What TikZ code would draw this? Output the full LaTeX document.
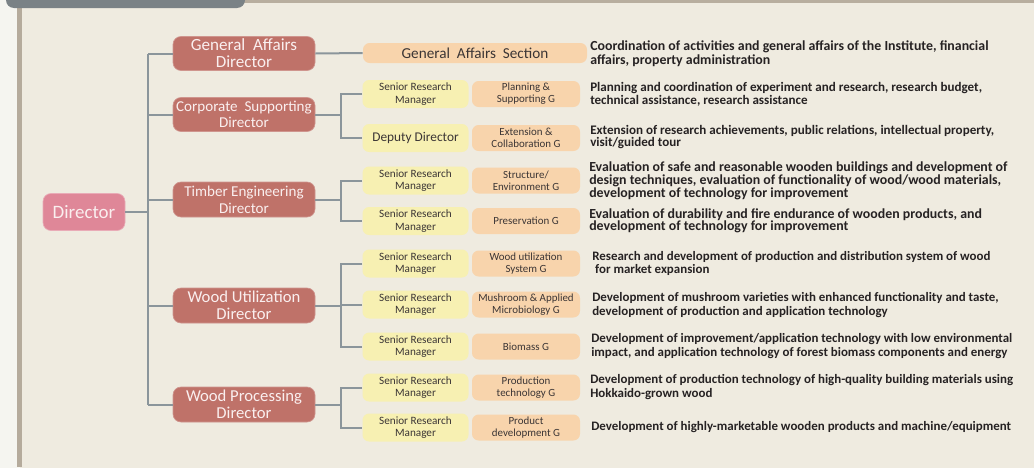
\documentclass[tikz,border=0pt]{standalone}
\usepackage{fontspec}
\setmainfont{Carlito}
\definecolor{panel}{HTML}{EFEBE0}
\definecolor{outside}{HTML}{F5F5F0}
\definecolor{stripe}{HTML}{B5AB9C}
\definecolor{tabc}{HTML}{7A8286}
\definecolor{topline}{HTML}{B8AE9F}
\definecolor{linec}{HTML}{8B959B}
\definecolor{pinkc}{HTML}{DF8798}
\definecolor{redc}{HTML}{BF7269}
\definecolor{yellowc}{HTML}{F7F0B2}
\definecolor{orangec}{HTML}{F8D4AC}
\definecolor{desctext}{HTML}{262223}
\definecolor{boxtext}{HTML}{3B3535}
\definecolor{dirtext}{HTML}{FAEFEF}
\begin{document}
\begin{tikzpicture}[x=0.75pt,y=-0.75pt,
  topbox/.style={rectangle,rounded corners=6pt,fill=pinkc,draw=pinkc!70!white,line width=0.5pt,
    minimum width=61.5pt,minimum height=27.75pt,text=dirtext,inner sep=0pt,
    font=\fontsize{14.2}{15}\selectfont},
  dirbox/.style={rectangle,rounded corners=6pt,fill=redc,draw=redc!75!white,line width=0.5pt,
    minimum width=106.5pt,minimum height=25.5pt,text=dirtext,inner sep=0pt,align=center},
  ybox/.style={rectangle,rounded corners=5pt,fill=yellowc,minimum width=79.5pt,minimum height=21pt,
    inner sep=0pt,align=center,text=boxtext,font=\fontsize{8.4}{9.2}\selectfont},
  obox/.style={rectangle,rounded corners=5pt,fill=orangec,minimum width=81pt,minimum height=19.5pt,
    inner sep=0pt,align=center,text=boxtext,font=\fontsize{8.2}{8.9}\selectfont},
  desc/.style={anchor=west,align=left,inner sep=0pt,text=desctext},
  conn/.style={draw=linec,line width=1.5pt}]
\useasboundingbox (0,0) rectangle (1034,468);
% background
\fill[outside] (0,0) rectangle (1034,468);
\fill[panel] (20,0) rectangle (1034,468);
\fill[topline] (230,0) rectangle (1034,3);
\fill[stripe] (17,0) rectangle (22,467);
\fill[tabc,rounded corners=6pt] (6,-12) rectangle (245,8);
% coordinates for connector columns
\coordinate (tx) at (148,0);
\coordinate (bx) at (341,0);
% Director
\node[topbox] (dir) at (84,212) {Director};
% directors
\node[dirbox,font=\fontsize{12.8}{12.8}\selectfont] (gad) at (244,53.5) {General\ \ Affairs\\Director};
\node[dirbox,font=\fontsize{11.3}{12.2}\selectfont] (csd) at (244,114.5) {Corporate\ \ Supporting\\Director};
\node[dirbox,minimum height=26.25pt,font=\fontsize{11.3}{12.5}\selectfont] (ted) at (244,199.5) {Timber Engineering\\Director};
\node[dirbox,minimum height=26.25pt,font=\fontsize{12.5}{12.5}\selectfont] (wud) at (244,305.5) {Wood Utilization\\Director};
\node[dirbox,minimum height=26.25pt,font=\fontsize{12.5}{12.5}\selectfont] (wpd) at (244,404.5) {Wood Processing\\Director};
% General affairs section
\node[rectangle,rounded corners=5pt,fill=orangec,minimum width=168pt,minimum height=15pt,inner sep=0pt,
  text=boxtext,font=\fontsize{11.4}{12}\selectfont] (gas) at (475,53) {General\ \ Affairs\ \ Section};
% rows
\node[ybox] (y1) at (415.5,94) {Senior Research\\Manager};
\node[obox] (o1) at (526,94) {Planning \&\\Supporting G};
\node[ybox,font=\fontsize{10}{11}\selectfont] (y2) at (415.5,138) {Deputy Director};
\node[obox] (o2) at (526,138) {Extension \&\\Collaboration G};
\node[ybox] (y3) at (415.5,180.5) {Senior Research\\Manager};
\node[obox] (o3) at (526,180.5) {Structure/\\Environment G};
\node[ybox] (y4) at (415.5,221) {Senior Research\\Manager};
\node[obox] (o4) at (526,221) {Preservation G};
\node[ybox] (y5) at (415.5,263.5) {Senior Research\\Manager};
\node[obox] (o5) at (526,263.5) {Wood utilization\\System G};
\node[ybox] (y6) at (415.5,304.5) {Senior Research\\Manager};
\node[obox] (o6) at (526,304.5) {Mushroom \& Applied\\Microbiology G};
\node[ybox] (y7) at (415.5,346.5) {Senior Research\\Manager};
\node[obox] (o7) at (526,346.5) {Biomass G};
\node[ybox] (y8) at (415.5,387.5) {Senior Research\\Manager};
\node[obox] (o8) at (526,387.5) {Production\\technology G};
\node[ybox] (y9) at (415.5,427.5) {Senior Research\\Manager};
\node[obox] (o9) at (526,427.5) {Product\\development G};
% descriptions
\node[desc,font=\fontsize{10.4}{8.4}\selectfont\bfseries] (d0) at (590,53.5) {Coordination of activities and general affairs of the Institute, financial\\affairs, property administration};
\node[desc,font=\fontsize{9.8}{8.4}\selectfont\bfseries] (d1) at (590,94) {Planning and coordination of experiment and research, research budget,\\technical assistance, research assistance};
\node[desc,font=\fontsize{9.8}{9}\selectfont\bfseries] (d2) at (590,137) {Extension of research achievements, public relations, intellectual property,\\visit/guided tour};
\node[desc,font=\fontsize{10.4}{9.75}\selectfont\bfseries] (d3) at (589,181) {Evaluation of safe and reasonable wooden buildings and development of\\design techniques, evaluation of functionality of wood/wood materials,\\development of technology for improvement};
\node[desc,font=\fontsize{10.4}{9}\selectfont\bfseries] (d4) at (589,221) {Evaluation of durability and fire endurance of wooden products, and\\development of technology for improvement};
\node[desc,font=\fontsize{9.7}{9.75}\selectfont\bfseries] (d5) at (592,263.5) {Research and development of production and distribution system of wood\\\ for market expansion};
\node[desc,font=\fontsize{9.7}{10.5}\selectfont\bfseries] (d6) at (592,305) {Development of mushroom varieties with enhanced functionality and taste,\\development of production and application technology};
\node[desc,font=\fontsize{9.7}{10.5}\selectfont\bfseries] (d7) at (591,346) {Development of improvement/application technology with low environmental\\impact, and application technology of forest biomass components and energy};
\node[desc,font=\fontsize{9.7}{10.5}\selectfont\bfseries] (d8) at (590,387) {Development of production technology of high-quality building materials using\\Hokkaido-grown wood};
\node[desc,font=\fontsize{9.7}{10.5}\selectfont\bfseries] (d9) at (591,427.5) {Development of highly-marketable wooden products and machine/equipment};
% connectors: director to trunk
\draw[conn] (dir.east) -- (dir.east -| tx);
\draw[conn] (gad.west -| tx) -- (wpd.west -| tx);
\foreach \n in {gad,csd,ted,wud,wpd} \draw[conn] (tx |- \n.west) -- (\n.west);
% general affairs to section
\draw[conn] (gad.east) -- (gas.west);
% corporate
\draw[conn] (csd.east) -- (csd.east -| bx);
\draw[conn] (y1.west) -- (y1.west -| bx) |- (y2.west);
% timber
\draw[conn] (ted.east) -- (ted.east -| bx);
\draw[conn] (y3.west) -- (y3.west -| bx) |- (y4.west);
% wood utilization
\draw[conn] (wud.east) -- (wud.east -| bx);
\draw[conn] (y5.west) -- (y5.west -| bx) |- (y7.west);
\draw[conn] (y6.west) -- (y6.west -| bx);
% wood processing
\draw[conn] (wpd.east) -- (wpd.east -| bx);
\draw[conn] (y8.west) -- (y8.west -| bx) |- (y9.west);
\end{tikzpicture}
\end{document}
